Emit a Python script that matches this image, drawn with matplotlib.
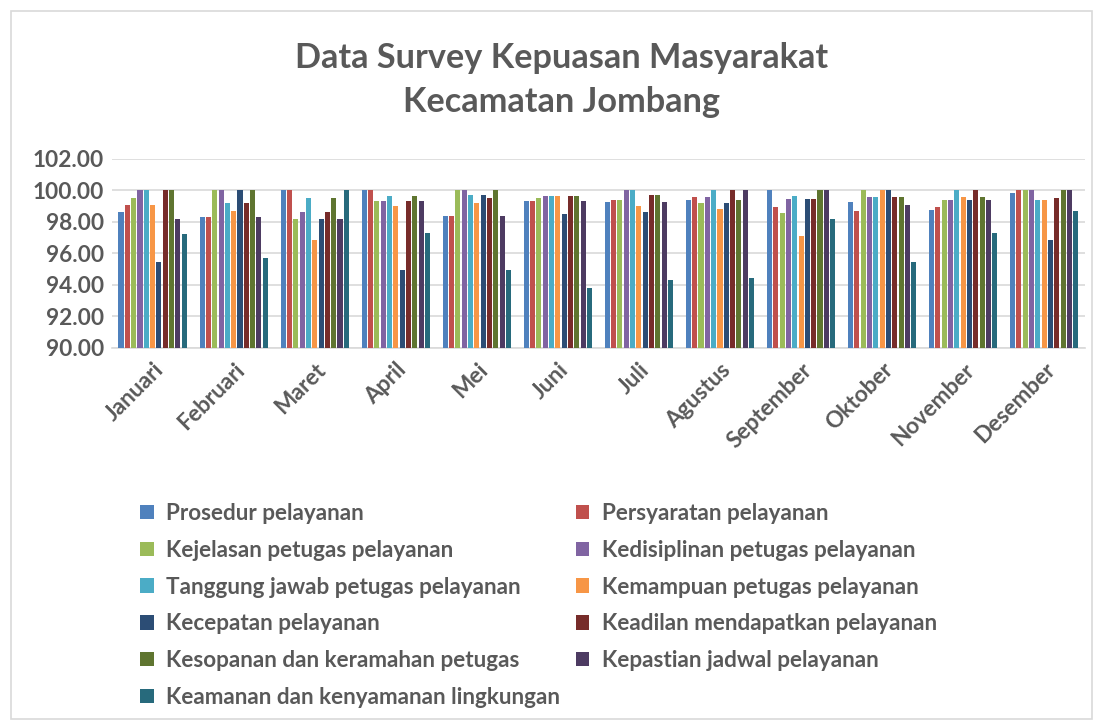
import matplotlib.pyplot as plt
import numpy as np
from matplotlib.patches import Rectangle

plt.rcParams['font.family'] = ['Lato', 'DejaVu Sans']

months = ['Januari', 'Februari', 'Maret', 'April', 'Mei', 'Juni', 'Juli',
          'Agustus', 'September', 'Oktober', 'November', 'Desember']

series = ['Prosedur pelayanan', 'Persyaratan pelayanan',
          'Kejelasan petugas pelayanan', 'Kedisiplinan petugas pelayanan',
          'Tanggung jawab petugas pelayanan', 'Kemampuan petugas pelayanan',
          'Kecepatan pelayanan', 'Keadilan mendapatkan pelayanan',
          'Kesopanan dan keramahan petugas', 'Kepastian jadwal pelayanan',
          'Keamanan dan kenyamanan lingkungan']

colors = ['#4F81BD', '#C0504D', '#9BBB59', '#8064A2', '#4BACC6', '#F79646',
          '#2C4D75', '#772C2A', '#5F7530', '#4D3B62', '#276A7C']

# one row per month, one column per series
values = [
    [98.62, 99.08, 99.53, 100.00, 100.00, 99.08, 95.44, 100.00, 100.00, 98.17, 97.25],
    [98.30, 98.30, 100.00, 100.00, 99.18, 98.71, 100.00, 99.18, 100.00, 98.30, 95.70],
    [100.00, 100.00, 98.17, 98.62, 99.53, 96.86, 98.17, 98.62, 99.53, 98.17, 100.00],
    [100.00, 100.00, 99.31, 99.31, 99.66, 98.99, 94.95, 99.31, 99.66, 99.31, 97.29],
    [98.41, 98.41, 100.00, 100.00, 99.74, 99.20, 99.74, 99.50, 100.00, 98.41, 94.95],
    [99.31, 99.31, 99.53, 99.66, 99.66, 99.66, 98.49, 99.66, 99.66, 99.31, 93.83],
    [99.25, 99.38, 99.38, 100.00, 100.00, 98.99, 98.62, 99.74, 99.74, 99.25, 94.32],
    [99.40, 99.61, 99.20, 99.61, 100.00, 98.80, 99.20, 100.00, 99.40, 100.00, 94.45],
    [100.00, 98.92, 98.54, 99.44, 99.66, 97.10, 99.44, 99.44, 100.00, 100.00, 98.17],
    [99.25, 98.71, 100.00, 99.61, 99.61, 100.00, 100.00, 99.61, 99.61, 99.08, 95.48],
    [98.75, 98.95, 99.38, 99.38, 100.00, 99.57, 99.38, 100.00, 99.57, 99.38, 97.27],
    [99.85, 100.00, 100.00, 100.00, 99.38, 99.38, 96.88, 99.53, 100.00, 100.00, 98.71],
]
yticks = [90, 92, 94, 96, 98, 100, 102]

grey = '#595959'
data = np.array(values)
x = np.arange(len(months))
slot = 0.078
n = len(series)

fig = plt.figure(figsize=(10.99, 7.26), dpi=100)
ax = fig.add_axes([0.102, 0.5207, 0.885, 0.2603])

handles = []
for i in range(n):
    h = ax.bar(x + (i - (n - 1) / 2) * slot, data[:, i] - 90, bottom=90,
               width=slot * 0.8, color=colors[i], label=series[i], zorder=3)
    handles.append(h)

ax.set_ylim(90, 102)
ax.set_xlim(-0.5, len(months) - 0.5)
ax.set_yticks(yticks)
ax.set_yticklabels(['%.2f' % v for v in yticks], fontsize=16.3,
                   fontweight='bold', color=grey)
ax.set_xticks(x)
ax.set_xticklabels(months, rotation=45, ha='right', rotation_mode='anchor',
                   fontsize=16.3, fontweight='bold', color=grey)
ax.tick_params(axis='y', length=0, pad=6)
ax.tick_params(axis='x', length=0, pad=8)
ax.grid(axis='y', color='#d9d9d9', linewidth=1.2, zorder=0)
for s in ['top', 'right', 'left']:
    ax.spines[s].set_visible(False)
ax.spines['bottom'].set_color('#d9d9d9')
ax.spines['bottom'].set_linewidth(1.2)

fig.text(0.511, 0.920, 'Data Survey Kepuasan Masyarakat', ha='center',
         va='center', fontsize=24.7, fontweight='bold', color=grey)
fig.text(0.511, 0.8595, 'Kecamatan Jombang', ha='center',
         va='center', fontsize=24.7, fontweight='bold', color=grey)

order = [0, 2, 4, 6, 8, 10, 1, 3, 5, 7, 9]
leg = fig.legend([handles[k] for k in order], [series[k] for k in order],
                 ncol=2, loc='upper left', bbox_to_anchor=(0.109, 0.335),
                 frameon=False, handlelength=0.6, handleheight=0.6,
                 handletextpad=0.55, labelspacing=0.7, columnspacing=0.7,
                 prop={'size': 16.2, 'weight': 'bold'})
for t in leg.get_texts():
    t.set_color(grey)

fig.patches.append(Rectangle((0.01, 0.01), 0.984, 0.975,
                             transform=fig.transFigure, fill=False,
                             edgecolor='#d9d9d9', linewidth=1.2))

fig.savefig('out.png', dpi=100)
